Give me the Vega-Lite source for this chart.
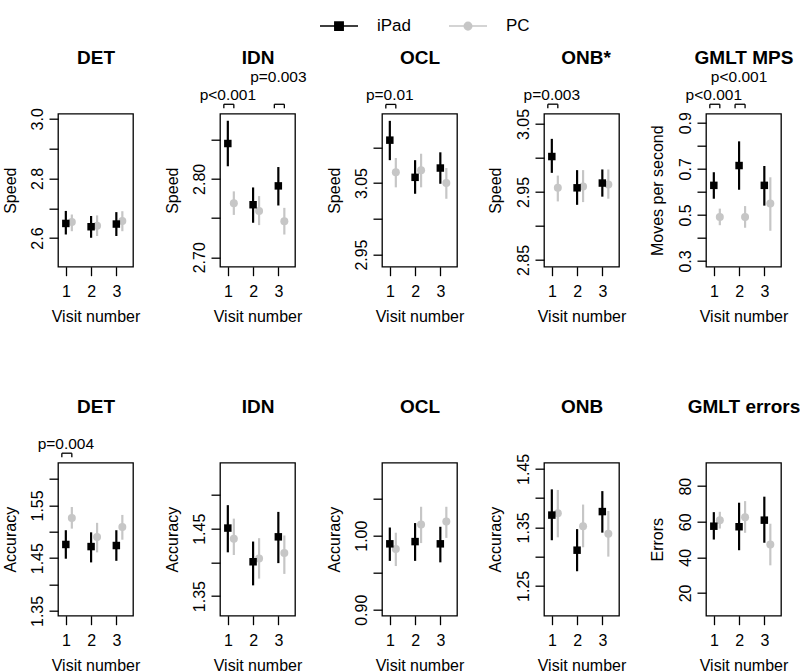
{
"$schema":"https://vega.github.io/schema/vega-lite/v6.json",
"padding":{"left":1,"top":5.7,"right":0,"bottom":0},
"background":"white",
"config":{"view":{"stroke":"#000","strokeWidth":1.3},
"axis":{"domain":false,"grid":false,"tickColor":"#000","tickWidth":1.3,"tickSize":9,"labelFont":"Liberation Sans","labelFontSize":16,"labelColor":"#000","titleFont":"Liberation Sans","titleFontSize":16,"titleFontWeight":"normal","titleColor":"#000"},
"text":{"font":"Liberation Sans"}},
"datasets":{
"pts":[
{"panel":"sDET","device":"iPad","visit":1,"mean":2.649,"lo":2.612,"hi":2.691},
{"panel":"sDET","device":"iPad","visit":2,"mean":2.638,"lo":2.601,"hi":2.674},
{"panel":"sDET","device":"iPad","visit":3,"mean":2.647,"lo":2.607,"hi":2.687},
{"panel":"sDET","device":"PC","visit":1,"mean":2.654,"lo":2.623,"hi":2.679},
{"panel":"sDET","device":"PC","visit":2,"mean":2.641,"lo":2.607,"hi":2.676},
{"panel":"sDET","device":"PC","visit":3,"mean":2.657,"lo":2.623,"hi":2.690},
{"panel":"sIDN","device":"iPad","visit":1,"mean":2.845,"lo":2.816,"hi":2.874},
{"panel":"sIDN","device":"iPad","visit":2,"mean":2.767,"lo":2.744,"hi":2.789},
{"panel":"sIDN","device":"iPad","visit":3,"mean":2.791,"lo":2.766,"hi":2.815},
{"panel":"sIDN","device":"PC","visit":1,"mean":2.769,"lo":2.754,"hi":2.784},
{"panel":"sIDN","device":"PC","visit":2,"mean":2.759,"lo":2.741,"hi":2.778},
{"panel":"sIDN","device":"PC","visit":3,"mean":2.746,"lo":2.729,"hi":2.763},
{"panel":"sOCL","device":"iPad","visit":1,"mean":3.110,"lo":3.082,"hi":3.137},
{"panel":"sOCL","device":"iPad","visit":2,"mean":3.058,"lo":3.035,"hi":3.082},
{"panel":"sOCL","device":"iPad","visit":3,"mean":3.071,"lo":3.049,"hi":3.093},
{"panel":"sOCL","device":"PC","visit":1,"mean":3.065,"lo":3.044,"hi":3.085},
{"panel":"sOCL","device":"PC","visit":2,"mean":3.068,"lo":3.044,"hi":3.091},
{"panel":"sOCL","device":"PC","visit":3,"mean":3.050,"lo":3.028,"hi":3.071},
{"panel":"sONB","device":"iPad","visit":1,"mean":3.002,"lo":2.978,"hi":3.028},
{"panel":"sONB","device":"iPad","visit":2,"mean":2.956,"lo":2.931,"hi":2.982},
{"panel":"sONB","device":"iPad","visit":3,"mean":2.963,"lo":2.943,"hi":2.983},
{"panel":"sONB","device":"PC","visit":1,"mean":2.956,"lo":2.936,"hi":2.974},
{"panel":"sONB","device":"PC","visit":2,"mean":2.958,"lo":2.935,"hi":2.982},
{"panel":"sONB","device":"PC","visit":3,"mean":2.961,"lo":2.940,"hi":2.983},
{"panel":"sGMLT","device":"iPad","visit":1,"mean":0.628,"lo":0.570,"hi":0.685},
{"panel":"sGMLT","device":"iPad","visit":2,"mean":0.714,"lo":0.609,"hi":0.819},
{"panel":"sGMLT","device":"iPad","visit":3,"mean":0.628,"lo":0.540,"hi":0.712},
{"panel":"sGMLT","device":"PC","visit":1,"mean":0.491,"lo":0.455,"hi":0.527},
{"panel":"sGMLT","device":"PC","visit":2,"mean":0.491,"lo":0.444,"hi":0.538},
{"panel":"sGMLT","device":"PC","visit":3,"mean":0.549,"lo":0.431,"hi":0.663},
{"panel":"aDET","device":"iPad","visit":1,"mean":1.476,"lo":1.449,"hi":1.503},
{"panel":"aDET","device":"iPad","visit":2,"mean":1.472,"lo":1.442,"hi":1.499},
{"panel":"aDET","device":"iPad","visit":3,"mean":1.474,"lo":1.445,"hi":1.503},
{"panel":"aDET","device":"PC","visit":1,"mean":1.526,"lo":1.506,"hi":1.547},
{"panel":"aDET","device":"PC","visit":2,"mean":1.490,"lo":1.461,"hi":1.517},
{"panel":"aDET","device":"PC","visit":3,"mean":1.509,"lo":1.485,"hi":1.532},
{"panel":"aIDN","device":"iPad","visit":1,"mean":1.451,"lo":1.415,"hi":1.485},
{"panel":"aIDN","device":"iPad","visit":2,"mean":1.401,"lo":1.366,"hi":1.431},
{"panel":"aIDN","device":"iPad","visit":3,"mean":1.438,"lo":1.399,"hi":1.475},
{"panel":"aIDN","device":"PC","visit":1,"mean":1.435,"lo":1.411,"hi":1.465},
{"panel":"aIDN","device":"PC","visit":2,"mean":1.406,"lo":1.376,"hi":1.436},
{"panel":"aIDN","device":"PC","visit":3,"mean":1.414,"lo":1.383,"hi":1.440},
{"panel":"aOCL","device":"iPad","visit":1,"mean":0.989,"lo":0.966,"hi":1.011},
{"panel":"aOCL","device":"iPad","visit":2,"mean":0.992,"lo":0.966,"hi":1.017},
{"panel":"aOCL","device":"iPad","visit":3,"mean":0.989,"lo":0.964,"hi":1.012},
{"panel":"aOCL","device":"PC","visit":1,"mean":0.982,"lo":0.959,"hi":1.004},
{"panel":"aOCL","device":"PC","visit":2,"mean":1.015,"lo":0.990,"hi":1.039},
{"panel":"aOCL","device":"PC","visit":3,"mean":1.019,"lo":0.997,"hi":1.039},
{"panel":"aONB","device":"iPad","visit":1,"mean":1.371,"lo":1.328,"hi":1.415},
{"panel":"aONB","device":"iPad","visit":2,"mean":1.311,"lo":1.275,"hi":1.347},
{"panel":"aONB","device":"iPad","visit":3,"mean":1.377,"lo":1.341,"hi":1.412},
{"panel":"aONB","device":"PC","visit":1,"mean":1.374,"lo":1.333,"hi":1.414},
{"panel":"aONB","device":"PC","visit":2,"mean":1.352,"lo":1.316,"hi":1.389},
{"panel":"aONB","device":"PC","visit":3,"mean":1.339,"lo":1.300,"hi":1.378},
{"panel":"aGMLT","device":"iPad","visit":1,"mean":57.5,"lo":50.0,"hi":65.4},
{"panel":"aGMLT","device":"iPad","visit":2,"mean":57.2,"lo":44.0,"hi":70.7},
{"panel":"aGMLT","device":"iPad","visit":3,"mean":60.9,"lo":48.2,"hi":74.1},
{"panel":"aGMLT","device":"PC","visit":1,"mean":60.9,"lo":56.2,"hi":65.6},
{"panel":"aGMLT","device":"PC","visit":2,"mean":62.6,"lo":53.8,"hi":71.6},
{"panel":"aGMLT","device":"PC","visit":3,"mean":47.2,"lo":35.5,"hi":58.9}
],
"ann":[
{"panel":"sIDN","visit":1,"label":"p<0.001","y":2.900},
{"panel":"sIDN","visit":3,"label":"p=0.003","y":2.923},
{"panel":"sOCL","visit":1,"label":"p=0.01","y":3.166},
{"panel":"sONB","visit":1,"label":"p=0.003","y":3.085},
{"panel":"sGMLT","visit":1,"label":"p<0.001","y":0.997},
{"panel":"sGMLT","visit":2,"label":"p<0.001","y":1.075},
{"panel":"aDET","visit":1,"label":"p=0.004","y":1.657}
],
"br":[
{"panel":"sIDN","visit":1,"y":2.895},
{"panel":"sIDN","visit":3,"y":2.895},
{"panel":"sOCL","visit":1,"y":3.160},
{"panel":"sONB","visit":1,"y":3.079},
{"panel":"sGMLT","visit":1,"y":0.980},
{"panel":"sGMLT","visit":2,"y":0.980},
{"panel":"aDET","visit":1,"y":1.649}
]
},
"columns":5,
"spacing":{"row":196,"column":87},
"bounds":"flush",
"concat":[
{"width":75,"height":153,"resolve":{"axis":{"y":"independent"}},"layer":[
{"data":{"name":"pts"},"transform":[{"filter":"datum.panel=='sDET' && datum.device=='PC'"}],"mark":{"type":"rule","color":"#c6c6c6","strokeWidth":2.2,"xOffset":6},
"encoding":{"x":{"field":"visit","type":"quantitative","scale":{"domain":[0.69,3.66],"nice":false,"zero":false},"axis":{"orient":"bottom","values":[1,2,3],"format":"d","title":"Visit number","titleX":37.5,"titleY":55,"titleAlign":"center","titleBaseline":"alphabetic","labelPadding":8,"labelFlush":false,"labelOverlap":false,"labelAngle":0}},
"y":{"field":"lo","type":"quantitative","scale":{"domain":[2.504,3.017],"nice":false,"zero":false},"axis":{"orient":"left","values":[2.6,2.7,2.8,2.9,3.0],"format":".1f","labelExpr":"indexof(['2.6','2.8','3.0'], datum.label) >= 0 ? datum.label : ''","title":"Speed","titleX":-43,"titleY":76.5,"titleAngle":270,"titleAlign":"center","titleBaseline":"alphabetic","labelAngle":270,"labelAlign":"center","labelBaseline":"bottom","labelPadding":3.5,"labelOverlap":false,"labelFlush":false}},"y2":{"field":"hi"}}},
{"data":{"name":"pts"},"transform":[{"filter":"datum.panel=='sDET' && datum.device=='PC'"}],"mark":{"type":"point","shape":"circle","filled":true,"size":64,"color":"#c6c6c6","opacity":1,"xOffset":6},
"encoding":{"x":{"field":"visit","type":"quantitative","scale":{"domain":[0.69,3.66],"nice":false,"zero":false},"axis":null},"y":{"field":"mean","type":"quantitative","scale":{"domain":[2.504,3.017],"nice":false,"zero":false},"axis":null}}},
{"data":{"name":"pts"},"transform":[{"filter":"datum.panel=='sDET' && datum.device=='iPad'"}],"mark":{"type":"rule","color":"#000","strokeWidth":2.2},
"encoding":{"x":{"field":"visit","type":"quantitative","scale":{"domain":[0.69,3.66],"nice":false,"zero":false},"axis":null},"y":{"field":"lo","type":"quantitative","scale":{"domain":[2.504,3.017],"nice":false,"zero":false},"axis":null},"y2":{"field":"hi"}}},
{"data":{"name":"pts"},"transform":[{"filter":"datum.panel=='sDET' && datum.device=='iPad'"}],"mark":{"type":"point","shape":"square","filled":true,"size":56,"opacity":1},
"encoding":{"x":{"field":"visit","type":"quantitative","scale":{"domain":[0.69,3.66],"nice":false,"zero":false},"axis":{"orient":"top","title":"DET","titleX":37.5,"titleY":-50,"titleAlign":"center","titleBaseline":"alphabetic","titleFontSize":19,"titleFontWeight":"bold","labels":false,"ticks":false,"domain":false}},"y":{"field":"mean","type":"quantitative","scale":{"domain":[2.504,3.017],"nice":false,"zero":false},"axis":null},
"color":{"field":"device","type":"nominal","scale":{"domain":["iPad","PC"],"range":["#000000","#c6c6c6"]},"legend":{"orient":"none","legendX":261,"legendY":-107.6,"direction":"horizontal","title":null,"symbolSize":1444,"symbolType":"M-1,0H1M-0.22,-0.22H0.22V0.22H-0.22Z","labelFontSize":17,"labelFont":"Liberation Sans","labelColor":"#000","labelOffset":18,"columnPadding":34,"symbolStrokeWidth":1.5,"symbolOpacity":1,
"encode":{"symbols":{"update":{"fill":{"scale":"color","field":"value"},"stroke":{"scale":"color","field":"value"},"strokeWidth":{"value":1.5},"opacity":{"value":1},"shape":{"signal":"datum.value == 'PC' ? 'M-1,0H1M0.2,0A0.2,0.2,0,1,1,-0.2,0A0.2,0.2,0,1,1,0.2,0Z' : 'M-1,0H1M-0.22,-0.22H0.22V0.22H-0.22Z'"}}}}}}}}
]},
{"width":75,"height":153,"resolve":{"axis":{"y":"independent"}},"layer":[
{"data":{"name":"pts"},"transform":[{"filter":"datum.panel=='sIDN' && datum.device=='PC'"}],"mark":{"type":"rule","color":"#c6c6c6","strokeWidth":2.2,"xOffset":6},
"encoding":{"x":{"field":"visit","type":"quantitative","scale":{"domain":[0.69,3.66],"nice":false,"zero":false},"axis":{"orient":"bottom","values":[1,2,3],"format":"d","title":"Visit number","titleX":37.5,"titleY":55,"titleAlign":"center","titleBaseline":"alphabetic","labelPadding":8,"labelFlush":false,"labelOverlap":false,"labelAngle":0}},
"y":{"field":"lo","type":"quantitative","scale":{"domain":[2.688,2.883],"nice":false,"zero":false},"axis":{"orient":"left","values":[2.70,2.75,2.80,2.85],"format":".2f","labelExpr":"indexof(['2.70','2.80'], datum.label) >= 0 ? datum.label : ''","title":"Speed","titleX":-43,"titleY":76.5,"titleAngle":270,"titleAlign":"center","titleBaseline":"alphabetic","labelAngle":270,"labelAlign":"center","labelBaseline":"bottom","labelPadding":3.5,"labelOverlap":false,"labelFlush":false}},"y2":{"field":"hi"}}},
{"data":{"name":"pts"},"transform":[{"filter":"datum.panel=='sIDN' && datum.device=='PC'"}],"mark":{"type":"point","shape":"circle","filled":true,"size":64,"color":"#c6c6c6","opacity":1,"xOffset":6},
"encoding":{"x":{"field":"visit","type":"quantitative","scale":{"domain":[0.69,3.66],"nice":false,"zero":false},"axis":null},"y":{"field":"mean","type":"quantitative","scale":{"domain":[2.688,2.883],"nice":false,"zero":false},"axis":null}}},
{"data":{"name":"pts"},"transform":[{"filter":"datum.panel=='sIDN' && datum.device=='iPad'"}],"mark":{"type":"rule","color":"#000","strokeWidth":2.2},
"encoding":{"x":{"field":"visit","type":"quantitative","scale":{"domain":[0.69,3.66],"nice":false,"zero":false},"axis":null},"y":{"field":"lo","type":"quantitative","scale":{"domain":[2.688,2.883],"nice":false,"zero":false},"axis":null},"y2":{"field":"hi"}}},
{"data":{"name":"pts"},"transform":[{"filter":"datum.panel=='sIDN' && datum.device=='iPad'"}],"mark":{"type":"point","shape":"square","filled":true,"size":56,"color":"#000","opacity":1},
"encoding":{"x":{"field":"visit","type":"quantitative","scale":{"domain":[0.69,3.66],"nice":false,"zero":false},"axis":{"orient":"top","title":"IDN","titleX":37.5,"titleY":-50,"titleAlign":"center","titleBaseline":"alphabetic","titleFontSize":19,"titleFontWeight":"bold","labels":false,"ticks":false,"domain":false}},"y":{"field":"mean","type":"quantitative","scale":{"domain":[2.688,2.883],"nice":false,"zero":false},"axis":null}}},
{"data":{"name":"ann"},"transform":[{"filter":"datum.panel=='sIDN'"}],"mark":{"type":"text","fontSize":15.5,"baseline":"alphabetic","align":"center","color":"#000"},
"encoding":{"x":{"field":"visit","type":"quantitative","scale":{"domain":[0.69,3.66],"nice":false,"zero":false},"axis":null},"y":{"field":"y","type":"quantitative","scale":{"domain":[2.688,2.883],"nice":false,"zero":false},"axis":null},"text":{"field":"label"}}},
{"data":{"name":"br"},"transform":[{"filter":"datum.panel=='sIDN'"}],"mark":{"type":"rule","color":"#000","strokeWidth":1.3,"xOffset":-4,"x2Offset":6},
"encoding":{"x":{"field":"visit","type":"quantitative","scale":{"domain":[0.69,3.66],"nice":false,"zero":false},"axis":null},"x2":{"field":"visit"},"y":{"field":"y","type":"quantitative","scale":{"domain":[2.688,2.883],"nice":false,"zero":false},"axis":null}}},
{"data":{"name":"br"},"transform":[{"filter":"datum.panel=='sIDN'"}],"mark":{"type":"rule","color":"#000","strokeWidth":1.3,"xOffset":-4,"y2Offset":4},
"encoding":{"x":{"field":"visit","type":"quantitative","scale":{"domain":[0.69,3.66],"nice":false,"zero":false},"axis":null},"y":{"field":"y","type":"quantitative","scale":{"domain":[2.688,2.883],"nice":false,"zero":false},"axis":null},"y2":{"field":"y"}}},
{"data":{"name":"br"},"transform":[{"filter":"datum.panel=='sIDN'"}],"mark":{"type":"rule","color":"#000","strokeWidth":1.3,"xOffset":6,"y2Offset":4},
"encoding":{"x":{"field":"visit","type":"quantitative","scale":{"domain":[0.69,3.66],"nice":false,"zero":false},"axis":null},"y":{"field":"y","type":"quantitative","scale":{"domain":[2.688,2.883],"nice":false,"zero":false},"axis":null},"y2":{"field":"y"}}}
]},
{"width":75,"height":153,"resolve":{"axis":{"y":"independent"}},"layer":[
{"data":{"name":"pts"},"transform":[{"filter":"datum.panel=='sOCL' && datum.device=='PC'"}],"mark":{"type":"rule","color":"#c6c6c6","strokeWidth":2.2,"xOffset":6},
"encoding":{"x":{"field":"visit","type":"quantitative","scale":{"domain":[0.69,3.66],"nice":false,"zero":false},"axis":{"orient":"bottom","values":[1,2,3],"format":"d","title":"Visit number","titleX":37.5,"titleY":55,"titleAlign":"center","titleBaseline":"alphabetic","labelPadding":8,"labelFlush":false,"labelOverlap":false,"labelAngle":0}},
"y":{"field":"lo","type":"quantitative","scale":{"domain":[2.933,3.147],"nice":false,"zero":false},"axis":{"orient":"left","values":[2.95,3.00,3.05,3.10],"format":".2f","labelExpr":"indexof(['2.95','3.05'], datum.label) >= 0 ? datum.label : ''","title":"Speed","titleX":-43,"titleY":76.5,"titleAngle":270,"titleAlign":"center","titleBaseline":"alphabetic","labelAngle":270,"labelAlign":"center","labelBaseline":"bottom","labelPadding":3.5,"labelOverlap":false,"labelFlush":false}},"y2":{"field":"hi"}}},
{"data":{"name":"pts"},"transform":[{"filter":"datum.panel=='sOCL' && datum.device=='PC'"}],"mark":{"type":"point","shape":"circle","filled":true,"size":64,"color":"#c6c6c6","opacity":1,"xOffset":6},
"encoding":{"x":{"field":"visit","type":"quantitative","scale":{"domain":[0.69,3.66],"nice":false,"zero":false},"axis":null},"y":{"field":"mean","type":"quantitative","scale":{"domain":[2.933,3.147],"nice":false,"zero":false},"axis":null}}},
{"data":{"name":"pts"},"transform":[{"filter":"datum.panel=='sOCL' && datum.device=='iPad'"}],"mark":{"type":"rule","color":"#000","strokeWidth":2.2},
"encoding":{"x":{"field":"visit","type":"quantitative","scale":{"domain":[0.69,3.66],"nice":false,"zero":false},"axis":null},"y":{"field":"lo","type":"quantitative","scale":{"domain":[2.933,3.147],"nice":false,"zero":false},"axis":null},"y2":{"field":"hi"}}},
{"data":{"name":"pts"},"transform":[{"filter":"datum.panel=='sOCL' && datum.device=='iPad'"}],"mark":{"type":"point","shape":"square","filled":true,"size":56,"color":"#000","opacity":1},
"encoding":{"x":{"field":"visit","type":"quantitative","scale":{"domain":[0.69,3.66],"nice":false,"zero":false},"axis":{"orient":"top","title":"OCL","titleX":37.5,"titleY":-50,"titleAlign":"center","titleBaseline":"alphabetic","titleFontSize":19,"titleFontWeight":"bold","labels":false,"ticks":false,"domain":false}},"y":{"field":"mean","type":"quantitative","scale":{"domain":[2.933,3.147],"nice":false,"zero":false},"axis":null}}},
{"data":{"name":"ann"},"transform":[{"filter":"datum.panel=='sOCL'"}],"mark":{"type":"text","fontSize":15.5,"baseline":"alphabetic","align":"center","color":"#000"},
"encoding":{"x":{"field":"visit","type":"quantitative","scale":{"domain":[0.69,3.66],"nice":false,"zero":false},"axis":null},"y":{"field":"y","type":"quantitative","scale":{"domain":[2.933,3.147],"nice":false,"zero":false},"axis":null},"text":{"field":"label"}}},
{"data":{"name":"br"},"transform":[{"filter":"datum.panel=='sOCL'"}],"mark":{"type":"rule","color":"#000","strokeWidth":1.3,"xOffset":-4,"x2Offset":6},
"encoding":{"x":{"field":"visit","type":"quantitative","scale":{"domain":[0.69,3.66],"nice":false,"zero":false},"axis":null},"x2":{"field":"visit"},"y":{"field":"y","type":"quantitative","scale":{"domain":[2.933,3.147],"nice":false,"zero":false},"axis":null}}},
{"data":{"name":"br"},"transform":[{"filter":"datum.panel=='sOCL'"}],"mark":{"type":"rule","color":"#000","strokeWidth":1.3,"xOffset":-4,"y2Offset":4},
"encoding":{"x":{"field":"visit","type":"quantitative","scale":{"domain":[0.69,3.66],"nice":false,"zero":false},"axis":null},"y":{"field":"y","type":"quantitative","scale":{"domain":[2.933,3.147],"nice":false,"zero":false},"axis":null},"y2":{"field":"y"}}},
{"data":{"name":"br"},"transform":[{"filter":"datum.panel=='sOCL'"}],"mark":{"type":"rule","color":"#000","strokeWidth":1.3,"xOffset":6,"y2Offset":4},
"encoding":{"x":{"field":"visit","type":"quantitative","scale":{"domain":[0.69,3.66],"nice":false,"zero":false},"axis":null},"y":{"field":"y","type":"quantitative","scale":{"domain":[2.933,3.147],"nice":false,"zero":false},"axis":null},"y2":{"field":"y"}}}
]},
{"width":75,"height":153,"resolve":{"axis":{"y":"independent"}},"layer":[
{"data":{"name":"pts"},"transform":[{"filter":"datum.panel=='sONB' && datum.device=='PC'"}],"mark":{"type":"rule","color":"#c6c6c6","strokeWidth":2.2,"xOffset":6},
"encoding":{"x":{"field":"visit","type":"quantitative","scale":{"domain":[0.69,3.66],"nice":false,"zero":false},"axis":{"orient":"bottom","values":[1,2,3],"format":"d","title":"Visit number","titleX":37.5,"titleY":55,"titleAlign":"center","titleBaseline":"alphabetic","labelPadding":8,"labelFlush":false,"labelOverlap":false,"labelAngle":0}},
"y":{"field":"lo","type":"quantitative","scale":{"domain":[2.840,3.065],"nice":false,"zero":false},"axis":{"orient":"left","values":[2.85,2.90,2.95,3.00,3.05],"format":".2f","labelExpr":"indexof(['2.85','2.95','3.05'], datum.label) >= 0 ? datum.label : ''","title":"Speed","titleX":-43,"titleY":76.5,"titleAngle":270,"titleAlign":"center","titleBaseline":"alphabetic","labelAngle":270,"labelAlign":"center","labelBaseline":"bottom","labelPadding":3.5,"labelOverlap":false,"labelFlush":false}},"y2":{"field":"hi"}}},
{"data":{"name":"pts"},"transform":[{"filter":"datum.panel=='sONB' && datum.device=='PC'"}],"mark":{"type":"point","shape":"circle","filled":true,"size":64,"color":"#c6c6c6","opacity":1,"xOffset":6},
"encoding":{"x":{"field":"visit","type":"quantitative","scale":{"domain":[0.69,3.66],"nice":false,"zero":false},"axis":null},"y":{"field":"mean","type":"quantitative","scale":{"domain":[2.840,3.065],"nice":false,"zero":false},"axis":null}}},
{"data":{"name":"pts"},"transform":[{"filter":"datum.panel=='sONB' && datum.device=='iPad'"}],"mark":{"type":"rule","color":"#000","strokeWidth":2.2},
"encoding":{"x":{"field":"visit","type":"quantitative","scale":{"domain":[0.69,3.66],"nice":false,"zero":false},"axis":null},"y":{"field":"lo","type":"quantitative","scale":{"domain":[2.840,3.065],"nice":false,"zero":false},"axis":null},"y2":{"field":"hi"}}},
{"data":{"name":"pts"},"transform":[{"filter":"datum.panel=='sONB' && datum.device=='iPad'"}],"mark":{"type":"point","shape":"square","filled":true,"size":56,"color":"#000","opacity":1},
"encoding":{"x":{"field":"visit","type":"quantitative","scale":{"domain":[0.69,3.66],"nice":false,"zero":false},"axis":{"orient":"top","title":"ONB*","titleX":41.5,"titleY":-50,"titleAlign":"center","titleBaseline":"alphabetic","titleFontSize":19,"titleFontWeight":"bold","labels":false,"ticks":false,"domain":false}},"y":{"field":"mean","type":"quantitative","scale":{"domain":[2.840,3.065],"nice":false,"zero":false},"axis":null}}},
{"data":{"name":"ann"},"transform":[{"filter":"datum.panel=='sONB'"}],"mark":{"type":"text","fontSize":15.5,"baseline":"alphabetic","align":"center","color":"#000"},
"encoding":{"x":{"field":"visit","type":"quantitative","scale":{"domain":[0.69,3.66],"nice":false,"zero":false},"axis":null},"y":{"field":"y","type":"quantitative","scale":{"domain":[2.840,3.065],"nice":false,"zero":false},"axis":null},"text":{"field":"label"}}},
{"data":{"name":"br"},"transform":[{"filter":"datum.panel=='sONB'"}],"mark":{"type":"rule","color":"#000","strokeWidth":1.3,"xOffset":-4,"x2Offset":6},
"encoding":{"x":{"field":"visit","type":"quantitative","scale":{"domain":[0.69,3.66],"nice":false,"zero":false},"axis":null},"x2":{"field":"visit"},"y":{"field":"y","type":"quantitative","scale":{"domain":[2.840,3.065],"nice":false,"zero":false},"axis":null}}},
{"data":{"name":"br"},"transform":[{"filter":"datum.panel=='sONB'"}],"mark":{"type":"rule","color":"#000","strokeWidth":1.3,"xOffset":-4,"y2Offset":4},
"encoding":{"x":{"field":"visit","type":"quantitative","scale":{"domain":[0.69,3.66],"nice":false,"zero":false},"axis":null},"y":{"field":"y","type":"quantitative","scale":{"domain":[2.840,3.065],"nice":false,"zero":false},"axis":null},"y2":{"field":"y"}}},
{"data":{"name":"br"},"transform":[{"filter":"datum.panel=='sONB'"}],"mark":{"type":"rule","color":"#000","strokeWidth":1.3,"xOffset":6,"y2Offset":4},
"encoding":{"x":{"field":"visit","type":"quantitative","scale":{"domain":[0.69,3.66],"nice":false,"zero":false},"axis":null},"y":{"field":"y","type":"quantitative","scale":{"domain":[2.840,3.065],"nice":false,"zero":false},"axis":null},"y2":{"field":"y"}}}
]},
{"width":75,"height":153,"resolve":{"axis":{"y":"independent"}},"layer":[
{"data":{"name":"pts"},"transform":[{"filter":"datum.panel=='sGMLT' && datum.device=='PC'"}],"mark":{"type":"rule","color":"#c6c6c6","strokeWidth":2.2,"xOffset":6},
"encoding":{"x":{"field":"visit","type":"quantitative","scale":{"domain":[0.69,3.66],"nice":false,"zero":false},"axis":{"orient":"bottom","values":[1,2,3],"format":"d","title":"Visit number","titleX":37.5,"titleY":55,"titleAlign":"center","titleBaseline":"alphabetic","labelPadding":8,"labelFlush":false,"labelOverlap":false,"labelAngle":0}},
"y":{"field":"lo","type":"quantitative","scale":{"domain":[0.275,0.939],"nice":false,"zero":false},"axis":{"orient":"left","values":[0.3,0.4,0.5,0.6,0.7,0.8,0.9],"format":".1f","labelExpr":"indexof(['0.3','0.5','0.7','0.9'], datum.label) >= 0 ? datum.label : ''","title":"Moves per second","titleX":-43,"titleY":76.5,"titleAngle":270,"titleAlign":"center","titleBaseline":"alphabetic","labelAngle":270,"labelAlign":"center","labelBaseline":"bottom","labelPadding":3.5,"labelOverlap":false,"labelFlush":false}},"y2":{"field":"hi"}}},
{"data":{"name":"pts"},"transform":[{"filter":"datum.panel=='sGMLT' && datum.device=='PC'"}],"mark":{"type":"point","shape":"circle","filled":true,"size":64,"color":"#c6c6c6","opacity":1,"xOffset":6},
"encoding":{"x":{"field":"visit","type":"quantitative","scale":{"domain":[0.69,3.66],"nice":false,"zero":false},"axis":null},"y":{"field":"mean","type":"quantitative","scale":{"domain":[0.275,0.939],"nice":false,"zero":false},"axis":null}}},
{"data":{"name":"pts"},"transform":[{"filter":"datum.panel=='sGMLT' && datum.device=='iPad'"}],"mark":{"type":"rule","color":"#000","strokeWidth":2.2},
"encoding":{"x":{"field":"visit","type":"quantitative","scale":{"domain":[0.69,3.66],"nice":false,"zero":false},"axis":null},"y":{"field":"lo","type":"quantitative","scale":{"domain":[0.275,0.939],"nice":false,"zero":false},"axis":null},"y2":{"field":"hi"}}},
{"data":{"name":"pts"},"transform":[{"filter":"datum.panel=='sGMLT' && datum.device=='iPad'"}],"mark":{"type":"point","shape":"square","filled":true,"size":56,"color":"#000","opacity":1},
"encoding":{"x":{"field":"visit","type":"quantitative","scale":{"domain":[0.69,3.66],"nice":false,"zero":false},"axis":{"orient":"top","title":"GMLT MPS","titleX":37.5,"titleY":-50,"titleAlign":"center","titleBaseline":"alphabetic","titleFontSize":19,"titleFontWeight":"bold","labels":false,"ticks":false,"domain":false}},"y":{"field":"mean","type":"quantitative","scale":{"domain":[0.275,0.939],"nice":false,"zero":false},"axis":null}}},
{"data":{"name":"ann"},"transform":[{"filter":"datum.panel=='sGMLT'"}],"mark":{"type":"text","fontSize":15.5,"baseline":"alphabetic","align":"center","color":"#000"},
"encoding":{"x":{"field":"visit","type":"quantitative","scale":{"domain":[0.69,3.66],"nice":false,"zero":false},"axis":null},"y":{"field":"y","type":"quantitative","scale":{"domain":[0.275,0.939],"nice":false,"zero":false},"axis":null},"text":{"field":"label"}}},
{"data":{"name":"br"},"transform":[{"filter":"datum.panel=='sGMLT'"}],"mark":{"type":"rule","color":"#000","strokeWidth":1.3,"xOffset":-4,"x2Offset":6},
"encoding":{"x":{"field":"visit","type":"quantitative","scale":{"domain":[0.69,3.66],"nice":false,"zero":false},"axis":null},"x2":{"field":"visit"},"y":{"field":"y","type":"quantitative","scale":{"domain":[0.275,0.939],"nice":false,"zero":false},"axis":null}}},
{"data":{"name":"br"},"transform":[{"filter":"datum.panel=='sGMLT'"}],"mark":{"type":"rule","color":"#000","strokeWidth":1.3,"xOffset":-4,"y2Offset":4},
"encoding":{"x":{"field":"visit","type":"quantitative","scale":{"domain":[0.69,3.66],"nice":false,"zero":false},"axis":null},"y":{"field":"y","type":"quantitative","scale":{"domain":[0.275,0.939],"nice":false,"zero":false},"axis":null},"y2":{"field":"y"}}},
{"data":{"name":"br"},"transform":[{"filter":"datum.panel=='sGMLT'"}],"mark":{"type":"rule","color":"#000","strokeWidth":1.3,"xOffset":6,"y2Offset":4},
"encoding":{"x":{"field":"visit","type":"quantitative","scale":{"domain":[0.69,3.66],"nice":false,"zero":false},"axis":null},"y":{"field":"y","type":"quantitative","scale":{"domain":[0.275,0.939],"nice":false,"zero":false},"axis":null},"y2":{"field":"y"}}}
]},
{"width":75,"height":153,"resolve":{"axis":{"y":"independent"}},"layer":[
{"data":{"name":"pts"},"transform":[{"filter":"datum.panel=='aDET' && datum.device=='PC'"}],"mark":{"type":"rule","color":"#c6c6c6","strokeWidth":2.2,"xOffset":6},
"encoding":{"x":{"field":"visit","type":"quantitative","scale":{"domain":[0.69,3.66],"nice":false,"zero":false},"axis":{"orient":"bottom","values":[1,2,3],"format":"d","title":"Visit number","titleX":37.5,"titleY":55,"titleAlign":"center","titleBaseline":"alphabetic","labelPadding":8,"labelFlush":false,"labelOverlap":false,"labelAngle":0}},
"y":{"field":"lo","type":"quantitative","scale":{"domain":[1.341,1.631],"nice":false,"zero":false},"axis":{"orient":"left","values":[1.35,1.40,1.45,1.50,1.55,1.60],"format":".2f","labelExpr":"indexof(['1.35','1.45','1.55'], datum.label) >= 0 ? datum.label : ''","title":"Accuracy","titleX":-43,"titleY":76.5,"titleAngle":270,"titleAlign":"center","titleBaseline":"alphabetic","labelAngle":270,"labelAlign":"center","labelBaseline":"bottom","labelPadding":3.5,"labelOverlap":false,"labelFlush":false}},"y2":{"field":"hi"}}},
{"data":{"name":"pts"},"transform":[{"filter":"datum.panel=='aDET' && datum.device=='PC'"}],"mark":{"type":"point","shape":"circle","filled":true,"size":64,"color":"#c6c6c6","opacity":1,"xOffset":6},
"encoding":{"x":{"field":"visit","type":"quantitative","scale":{"domain":[0.69,3.66],"nice":false,"zero":false},"axis":null},"y":{"field":"mean","type":"quantitative","scale":{"domain":[1.341,1.631],"nice":false,"zero":false},"axis":null}}},
{"data":{"name":"pts"},"transform":[{"filter":"datum.panel=='aDET' && datum.device=='iPad'"}],"mark":{"type":"rule","color":"#000","strokeWidth":2.2},
"encoding":{"x":{"field":"visit","type":"quantitative","scale":{"domain":[0.69,3.66],"nice":false,"zero":false},"axis":null},"y":{"field":"lo","type":"quantitative","scale":{"domain":[1.341,1.631],"nice":false,"zero":false},"axis":null},"y2":{"field":"hi"}}},
{"data":{"name":"pts"},"transform":[{"filter":"datum.panel=='aDET' && datum.device=='iPad'"}],"mark":{"type":"point","shape":"square","filled":true,"size":56,"color":"#000","opacity":1},
"encoding":{"x":{"field":"visit","type":"quantitative","scale":{"domain":[0.69,3.66],"nice":false,"zero":false},"axis":{"orient":"top","title":"DET","titleX":37.5,"titleY":-50,"titleAlign":"center","titleBaseline":"alphabetic","titleFontSize":19,"titleFontWeight":"bold","labels":false,"ticks":false,"domain":false}},"y":{"field":"mean","type":"quantitative","scale":{"domain":[1.341,1.631],"nice":false,"zero":false},"axis":null}}},
{"data":{"name":"ann"},"transform":[{"filter":"datum.panel=='aDET'"}],"mark":{"type":"text","fontSize":15.5,"baseline":"alphabetic","align":"center","color":"#000"},
"encoding":{"x":{"field":"visit","type":"quantitative","scale":{"domain":[0.69,3.66],"nice":false,"zero":false},"axis":null},"y":{"field":"y","type":"quantitative","scale":{"domain":[1.341,1.631],"nice":false,"zero":false},"axis":null},"text":{"field":"label"}}},
{"data":{"name":"br"},"transform":[{"filter":"datum.panel=='aDET'"}],"mark":{"type":"rule","color":"#000","strokeWidth":1.3,"xOffset":-4,"x2Offset":6},
"encoding":{"x":{"field":"visit","type":"quantitative","scale":{"domain":[0.69,3.66],"nice":false,"zero":false},"axis":null},"x2":{"field":"visit"},"y":{"field":"y","type":"quantitative","scale":{"domain":[1.341,1.631],"nice":false,"zero":false},"axis":null}}},
{"data":{"name":"br"},"transform":[{"filter":"datum.panel=='aDET'"}],"mark":{"type":"rule","color":"#000","strokeWidth":1.3,"xOffset":-4,"y2Offset":4},
"encoding":{"x":{"field":"visit","type":"quantitative","scale":{"domain":[0.69,3.66],"nice":false,"zero":false},"axis":null},"y":{"field":"y","type":"quantitative","scale":{"domain":[1.341,1.631],"nice":false,"zero":false},"axis":null},"y2":{"field":"y"}}},
{"data":{"name":"br"},"transform":[{"filter":"datum.panel=='aDET'"}],"mark":{"type":"rule","color":"#000","strokeWidth":1.3,"xOffset":6,"y2Offset":4},
"encoding":{"x":{"field":"visit","type":"quantitative","scale":{"domain":[0.69,3.66],"nice":false,"zero":false},"axis":null},"y":{"field":"y","type":"quantitative","scale":{"domain":[1.341,1.631],"nice":false,"zero":false},"axis":null},"y2":{"field":"y"}}}
]},
{"width":75,"height":153,"resolve":{"axis":{"y":"independent"}},"layer":[
{"data":{"name":"pts"},"transform":[{"filter":"datum.panel=='aIDN' && datum.device=='PC'"}],"mark":{"type":"rule","color":"#c6c6c6","strokeWidth":2.2,"xOffset":6},
"encoding":{"x":{"field":"visit","type":"quantitative","scale":{"domain":[0.69,3.66],"nice":false,"zero":false},"axis":{"orient":"bottom","values":[1,2,3],"format":"d","title":"Visit number","titleX":37.5,"titleY":55,"titleAlign":"center","titleBaseline":"alphabetic","labelPadding":8,"labelFlush":false,"labelOverlap":false,"labelAngle":0}},
"y":{"field":"lo","type":"quantitative","scale":{"domain":[1.321,1.548],"nice":false,"zero":false},"axis":{"orient":"left","values":[1.35,1.40,1.45,1.50],"format":".2f","labelExpr":"indexof(['1.35','1.45'], datum.label) >= 0 ? datum.label : ''","title":"Accuracy","titleX":-43,"titleY":76.5,"titleAngle":270,"titleAlign":"center","titleBaseline":"alphabetic","labelAngle":270,"labelAlign":"center","labelBaseline":"bottom","labelPadding":3.5,"labelOverlap":false,"labelFlush":false}},"y2":{"field":"hi"}}},
{"data":{"name":"pts"},"transform":[{"filter":"datum.panel=='aIDN' && datum.device=='PC'"}],"mark":{"type":"point","shape":"circle","filled":true,"size":64,"color":"#c6c6c6","opacity":1,"xOffset":6},
"encoding":{"x":{"field":"visit","type":"quantitative","scale":{"domain":[0.69,3.66],"nice":false,"zero":false},"axis":null},"y":{"field":"mean","type":"quantitative","scale":{"domain":[1.321,1.548],"nice":false,"zero":false},"axis":null}}},
{"data":{"name":"pts"},"transform":[{"filter":"datum.panel=='aIDN' && datum.device=='iPad'"}],"mark":{"type":"rule","color":"#000","strokeWidth":2.2},
"encoding":{"x":{"field":"visit","type":"quantitative","scale":{"domain":[0.69,3.66],"nice":false,"zero":false},"axis":null},"y":{"field":"lo","type":"quantitative","scale":{"domain":[1.321,1.548],"nice":false,"zero":false},"axis":null},"y2":{"field":"hi"}}},
{"data":{"name":"pts"},"transform":[{"filter":"datum.panel=='aIDN' && datum.device=='iPad'"}],"mark":{"type":"point","shape":"square","filled":true,"size":56,"color":"#000","opacity":1},
"encoding":{"x":{"field":"visit","type":"quantitative","scale":{"domain":[0.69,3.66],"nice":false,"zero":false},"axis":{"orient":"top","title":"IDN","titleX":37.5,"titleY":-50,"titleAlign":"center","titleBaseline":"alphabetic","titleFontSize":19,"titleFontWeight":"bold","labels":false,"ticks":false,"domain":false}},"y":{"field":"mean","type":"quantitative","scale":{"domain":[1.321,1.548],"nice":false,"zero":false},"axis":null}}}
]},
{"width":75,"height":153,"resolve":{"axis":{"y":"independent"}},"layer":[
{"data":{"name":"pts"},"transform":[{"filter":"datum.panel=='aOCL' && datum.device=='PC'"}],"mark":{"type":"rule","color":"#c6c6c6","strokeWidth":2.2,"xOffset":6},
"encoding":{"x":{"field":"visit","type":"quantitative","scale":{"domain":[0.69,3.66],"nice":false,"zero":false},"axis":{"orient":"bottom","values":[1,2,3],"format":"d","title":"Visit number","titleX":37.5,"titleY":55,"titleAlign":"center","titleBaseline":"alphabetic","labelPadding":8,"labelFlush":false,"labelOverlap":false,"labelAngle":0}},
"y":{"field":"lo","type":"quantitative","scale":{"domain":[0.892,1.0985],"nice":false,"zero":false},"axis":{"orient":"left","values":[0.90,0.95,1.00,1.05],"format":".2f","labelExpr":"indexof(['0.90','1.00'], datum.label) >= 0 ? datum.label : ''","title":"Accuracy","titleX":-43,"titleY":76.5,"titleAngle":270,"titleAlign":"center","titleBaseline":"alphabetic","labelAngle":270,"labelAlign":"center","labelBaseline":"bottom","labelPadding":3.5,"labelOverlap":false,"labelFlush":false}},"y2":{"field":"hi"}}},
{"data":{"name":"pts"},"transform":[{"filter":"datum.panel=='aOCL' && datum.device=='PC'"}],"mark":{"type":"point","shape":"circle","filled":true,"size":64,"color":"#c6c6c6","opacity":1,"xOffset":6},
"encoding":{"x":{"field":"visit","type":"quantitative","scale":{"domain":[0.69,3.66],"nice":false,"zero":false},"axis":null},"y":{"field":"mean","type":"quantitative","scale":{"domain":[0.892,1.0985],"nice":false,"zero":false},"axis":null}}},
{"data":{"name":"pts"},"transform":[{"filter":"datum.panel=='aOCL' && datum.device=='iPad'"}],"mark":{"type":"rule","color":"#000","strokeWidth":2.2},
"encoding":{"x":{"field":"visit","type":"quantitative","scale":{"domain":[0.69,3.66],"nice":false,"zero":false},"axis":null},"y":{"field":"lo","type":"quantitative","scale":{"domain":[0.892,1.0985],"nice":false,"zero":false},"axis":null},"y2":{"field":"hi"}}},
{"data":{"name":"pts"},"transform":[{"filter":"datum.panel=='aOCL' && datum.device=='iPad'"}],"mark":{"type":"point","shape":"square","filled":true,"size":56,"color":"#000","opacity":1},
"encoding":{"x":{"field":"visit","type":"quantitative","scale":{"domain":[0.69,3.66],"nice":false,"zero":false},"axis":{"orient":"top","title":"OCL","titleX":37.5,"titleY":-50,"titleAlign":"center","titleBaseline":"alphabetic","titleFontSize":19,"titleFontWeight":"bold","labels":false,"ticks":false,"domain":false}},"y":{"field":"mean","type":"quantitative","scale":{"domain":[0.892,1.0985],"nice":false,"zero":false},"axis":null}}}
]},
{"width":75,"height":153,"resolve":{"axis":{"y":"independent"}},"layer":[
{"data":{"name":"pts"},"transform":[{"filter":"datum.panel=='aONB' && datum.device=='PC'"}],"mark":{"type":"rule","color":"#c6c6c6","strokeWidth":2.2,"xOffset":6},
"encoding":{"x":{"field":"visit","type":"quantitative","scale":{"domain":[0.69,3.66],"nice":false,"zero":false},"axis":{"orient":"bottom","values":[1,2,3],"format":"d","title":"Visit number","titleX":37.5,"titleY":55,"titleAlign":"center","titleBaseline":"alphabetic","labelPadding":8,"labelFlush":false,"labelOverlap":false,"labelAngle":0}},
"y":{"field":"lo","type":"quantitative","scale":{"domain":[1.199,1.4606],"nice":false,"zero":false},"axis":{"orient":"left","values":[1.25,1.30,1.35,1.40,1.45],"format":".2f","labelExpr":"indexof(['1.25','1.35','1.45'], datum.label) >= 0 ? datum.label : ''","title":"Accuracy","titleX":-43,"titleY":76.5,"titleAngle":270,"titleAlign":"center","titleBaseline":"alphabetic","labelAngle":270,"labelAlign":"center","labelBaseline":"bottom","labelPadding":3.5,"labelOverlap":false,"labelFlush":false}},"y2":{"field":"hi"}}},
{"data":{"name":"pts"},"transform":[{"filter":"datum.panel=='aONB' && datum.device=='PC'"}],"mark":{"type":"point","shape":"circle","filled":true,"size":64,"color":"#c6c6c6","opacity":1,"xOffset":6},
"encoding":{"x":{"field":"visit","type":"quantitative","scale":{"domain":[0.69,3.66],"nice":false,"zero":false},"axis":null},"y":{"field":"mean","type":"quantitative","scale":{"domain":[1.199,1.4606],"nice":false,"zero":false},"axis":null}}},
{"data":{"name":"pts"},"transform":[{"filter":"datum.panel=='aONB' && datum.device=='iPad'"}],"mark":{"type":"rule","color":"#000","strokeWidth":2.2},
"encoding":{"x":{"field":"visit","type":"quantitative","scale":{"domain":[0.69,3.66],"nice":false,"zero":false},"axis":null},"y":{"field":"lo","type":"quantitative","scale":{"domain":[1.199,1.4606],"nice":false,"zero":false},"axis":null},"y2":{"field":"hi"}}},
{"data":{"name":"pts"},"transform":[{"filter":"datum.panel=='aONB' && datum.device=='iPad'"}],"mark":{"type":"point","shape":"square","filled":true,"size":56,"color":"#000","opacity":1},
"encoding":{"x":{"field":"visit","type":"quantitative","scale":{"domain":[0.69,3.66],"nice":false,"zero":false},"axis":{"orient":"top","title":"ONB","titleX":37.5,"titleY":-50,"titleAlign":"center","titleBaseline":"alphabetic","titleFontSize":19,"titleFontWeight":"bold","labels":false,"ticks":false,"domain":false}},"y":{"field":"mean","type":"quantitative","scale":{"domain":[1.199,1.4606],"nice":false,"zero":false},"axis":null}}}
]},
{"width":75,"height":153,"resolve":{"axis":{"y":"independent"}},"layer":[
{"data":{"name":"pts"},"transform":[{"filter":"datum.panel=='aGMLT' && datum.device=='PC'"}],"mark":{"type":"rule","color":"#c6c6c6","strokeWidth":2.2,"xOffset":6},
"encoding":{"x":{"field":"visit","type":"quantitative","scale":{"domain":[0.69,3.66],"nice":false,"zero":false},"axis":{"orient":"bottom","values":[1,2,3],"format":"d","title":"Visit number","titleX":37.5,"titleY":55,"titleAlign":"center","titleBaseline":"alphabetic","labelPadding":8,"labelFlush":false,"labelOverlap":false,"labelAngle":0}},
"y":{"field":"lo","type":"quantitative","scale":{"domain":[7.2,93.2],"nice":false,"zero":false},"axis":{"orient":"left","values":[20,40,60,80],"format":"d","title":"Errors","titleX":-43,"titleY":76.5,"titleAngle":270,"titleAlign":"center","titleBaseline":"alphabetic","labelAngle":270,"labelAlign":"center","labelBaseline":"bottom","labelPadding":3.5,"labelOverlap":false,"labelFlush":false}},"y2":{"field":"hi"}}},
{"data":{"name":"pts"},"transform":[{"filter":"datum.panel=='aGMLT' && datum.device=='PC'"}],"mark":{"type":"point","shape":"circle","filled":true,"size":64,"color":"#c6c6c6","opacity":1,"xOffset":6},
"encoding":{"x":{"field":"visit","type":"quantitative","scale":{"domain":[0.69,3.66],"nice":false,"zero":false},"axis":null},"y":{"field":"mean","type":"quantitative","scale":{"domain":[7.2,93.2],"nice":false,"zero":false},"axis":null}}},
{"data":{"name":"pts"},"transform":[{"filter":"datum.panel=='aGMLT' && datum.device=='iPad'"}],"mark":{"type":"rule","color":"#000","strokeWidth":2.2},
"encoding":{"x":{"field":"visit","type":"quantitative","scale":{"domain":[0.69,3.66],"nice":false,"zero":false},"axis":null},"y":{"field":"lo","type":"quantitative","scale":{"domain":[7.2,93.2],"nice":false,"zero":false},"axis":null},"y2":{"field":"hi"}}},
{"data":{"name":"pts"},"transform":[{"filter":"datum.panel=='aGMLT' && datum.device=='iPad'"}],"mark":{"type":"point","shape":"square","filled":true,"size":56,"color":"#000","opacity":1},
"encoding":{"x":{"field":"visit","type":"quantitative","scale":{"domain":[0.69,3.66],"nice":false,"zero":false},"axis":{"orient":"top","title":"GMLT errors","titleX":37.5,"titleY":-50,"titleAlign":"center","titleBaseline":"alphabetic","titleFontSize":19,"titleFontWeight":"bold","labels":false,"ticks":false,"domain":false}},"y":{"field":"mean","type":"quantitative","scale":{"domain":[7.2,93.2],"nice":false,"zero":false},"axis":null}}}
]}
]
}
